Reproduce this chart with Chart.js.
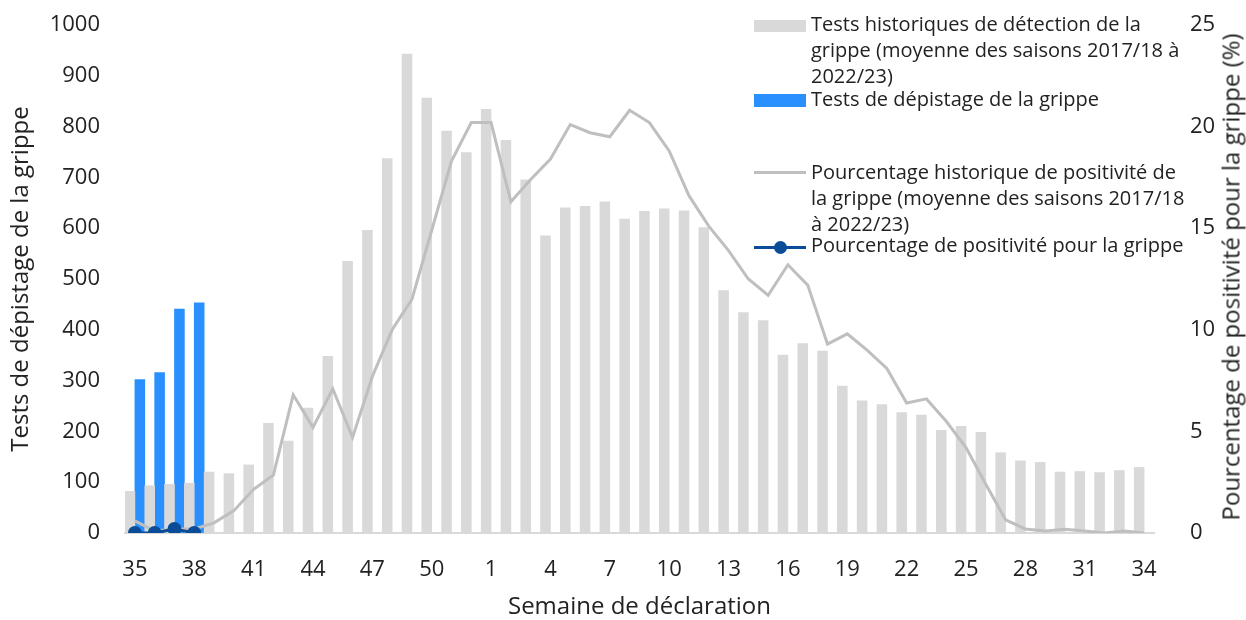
<!DOCTYPE html>
<html>
<head>
<meta charset="utf-8">
<script src="https://cdn.jsdelivr.net/npm/chart.js@4"></script>
<style>
  body { margin: 0; background: #fff; font-family: 'Open Sans', sans-serif; }
  #wrap { position: relative; width: 1246px; height: 620px; overflow: hidden; }
  .leg { position: absolute; left: 811px; font-size: 20px; line-height: 26px; color: #222; white-space: nowrap; }
  .sw { position: absolute; left: 754px; width: 52px; }
  #rtitle { position: absolute; left: 1230px; top: 277px; font-size: 24px; color: #222; white-space: nowrap;
    transform: translate(-50%, -50%) rotate(-90deg); }
</style>
</head>
<body>
<div id="wrap">
  <canvas id="myChart"></canvas>
  <div class="sw" style="top:20px;height:12px;background:#d9d9d9"></div>
  <div class="leg" style="top:11px">Tests historiques de détection de la<br>grippe (moyenne des saisons 2017/18 à<br>2022/23)</div>
  <div class="sw" style="top:94px;height:13px;background:#2a8fff"></div>
  <div class="leg" style="top:86px">Tests de dépistage de la grippe</div>
  <div class="sw" style="top:171px;height:3px;background:#bfbfbf"></div>
  <div class="leg" style="top:159px">Pourcentage historique de positivité de<br>la grippe (moyenne des saisons 2017/18<br>à 2022/23)</div>
  <div class="sw" style="top:246px;height:3px;background:#0a4c97"></div>
  <div style="position:absolute;left:774px;top:241px;width:13px;height:13px;border-radius:50%;background:#0a4c97"></div>
  <div class="leg" style="top:232px">Pourcentage de positivité pour la grippe</div>
  <div id="rtitle">Pourcentage de positivité pour la grippe (%)</div>
</div>
<script>
// weeks 35..52 then 1..34
const weeks = [35, 36, 37, 38, 39, 40, 41, 42, 43, 44, 45, 46, 47, 48, 49, 50, 51, 52,
  1, 2, 3, 4, 5, 6, 7, 8, 9, 10, 11, 12, 13, 14, 15, 16, 17, 18, 19, 20, 21, 22, 23, 24, 25,
  26, 27, 28, 29, 30, 31, 32, 33, 34];

// historical tests (average 2017/18 - 2022/23)
const histTests = [82, 93, 96, 98, 120, 117, 134, 216, 181, 246, 348, 535, 596, 737, 943, 856, 791, 749,
  834, 773, 695, 585, 640, 643, 652, 618, 633, 638, 634, 601, 477, 434, 418, 350, 373, 358, 289, 260,
  253, 237, 232, 202, 210, 198, 158, 142, 139, 120, 121, 119, 123, 129];

// current season tests
const curTests = [302, 316, 441, 453];

// historical positivity (%)
const histPct = [0.6, 0.1, 0.2, 0.2, 0.5, 1.1, 2.15, 2.85, 6.8, 5.2, 7.1, 4.7, 7.7, 10.0, 11.5, 14.9, 18.3, 20.2,
  20.2, 16.3, 17.4, 18.4, 20.1, 19.7, 19.5, 20.8, 20.2, 18.8, 16.6, 15.1, 13.9, 12.5, 11.7, 13.2, 12.2, 9.3,
  9.8, 9.0, 8.1, 6.4, 6.6, 5.5, 4.2, 2.4, 0.65, 0.2, 0.1, 0.18, 0.1, 0.0, 0.1, 0.0];

// current season positivity (%)
const curPct = [0.0, 0.0, 0.2, 0.0];

const font = { family: "'Open Sans', sans-serif", size: 22 };
const titleFont = { family: "'Open Sans', sans-serif", size: 24 };
const txt = '#222';

// tick marks are invisible, their length just pushes labels away from the plot
function hiddenTicks(len) {
  return { display: true, drawOnChartArea: false, drawTicks: true, tickLength: len, color: 'rgba(0,0,0,0)' };
}

const data = {
  labels: weeks.map(String),
  datasets: [
    {
      type: 'bar',
      label: 'Tests historiques de détection de la grippe (moyenne des saisons 2017/18 à 2022/23)',
      data: histTests,
      backgroundColor: '#d9d9d9',
      yAxisID: 'y',
      order: 3,
      barPercentage: 1,
      categoryPercentage: 1,
    },
    {
      type: 'bar',
      label: 'Tests de dépistage de la grippe',
      data: curTests,
      backgroundColor: '#2a8fff',
      yAxisID: 'y',
      order: 3,
      barPercentage: 1,
      categoryPercentage: 1,
    },
    {
      type: 'line',
      label: 'Pourcentage historique de positivité de la grippe (moyenne des saisons 2017/18 à 2022/23)',
      data: histPct,
      borderColor: '#bfbfbf',
      borderWidth: 3,
      pointRadius: 0,
      tension: 0,
      yAxisID: 'y1',
      order: 2,
    },
    {
      type: 'line',
      label: 'Pourcentage de positivité pour la grippe',
      data: curPct,
      borderColor: '#0a4c97',
      backgroundColor: '#0a4c97',
      borderWidth: 3,
      pointRadius: 7,
      pointBorderWidth: 0,
      tension: 0,
      yAxisID: 'y1',
      order: 1,
    },
  ]
};

const config = {
  data: data,
  options: {
    responsive: true,
    maintainAspectRatio: false,
    animation: false,
    layout: { padding: { top: 25, left: 0, right: 0, bottom: 0 } },
    plugins: { legend: { display: false }, tooltip: { enabled: false } },
    scales: {
      x: {
        offset: true,
        grid: hiddenTicks(24),
        border: { color: '#d9d9d9', width: 2 },
        ticks: {
          autoSkip: false, maxRotation: 0, color: txt, font: font, padding: 0,
          callback: function (v, i) { return i % 3 === 0 ? weeks[i] : ''; }
        },
        title: { display: true, text: 'Semaine de déclaration', color: txt, font: titleFont, padding: { top: 0, bottom: -2 } },
        afterFit: function (s) { s.height = 87; }
      },
      y: {
        position: 'left',
        min: 0, max: 1000,
        grid: hiddenTicks(25),
        border: { display: false },
        ticks: { stepSize: 100, color: txt, font: font, padding: 0, callback: function (v) { return String(v); } },
        title: { display: true, text: 'Tests de dépistage de la grippe', color: txt, font: titleFont, padding: { top: 7, bottom: 0 } },
        afterFit: function (s) { s.width = 125; }
      },
      y1: {
        position: 'right',
        min: 0, max: 25,
        grid: hiddenTicks(36),
        border: { display: false },
        ticks: { stepSize: 5, color: txt, font: font, padding: 0 },
        title: { display: false },
        afterFit: function (s) { s.width = 92; }
      }
    }
  }
};

const myChart = new Chart(document.getElementById('myChart'), config);
</script>
</body>
</html>
